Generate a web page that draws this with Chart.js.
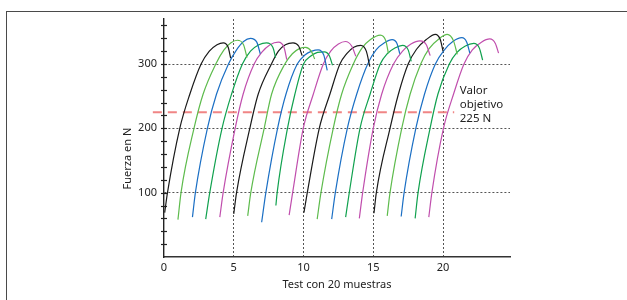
<!DOCTYPE html>
<html>
<head>
<meta charset="utf-8">
<script src="https://cdn.jsdelivr.net/npm/chart.js@4.4.0/dist/chart.umd.min.js"></script>
<style>
    html, body { margin: 0; padding: 0; background: #fff; overflow: hidden; }
    .frame { position: absolute; left: 6px; top: 11px; width: 700px; height: 400px; border: 1.5px solid #4a4a4a; }
    .chart-box { position: absolute; left: 0; top: 0; width: 627px; height: 300px; }
</style>
</head>
<body>
<div class="frame"></div>
<div class="chart-box"><canvas id="forceChart"></canvas></div>
<script>
// x positions (test axis) of each of the 20 force curves
const testX = [
    [0.05, 0.25, 1.13, 1.85, 2.66, 3.25, 3.8, 4.25, 4.6, 4.78],
    [1.0, 1.22, 2.15, 2.8, 3.71, 4.3, 4.8, 5.25, 5.7, 5.95],
    [2.04, 2.25, 3.11, 3.76, 4.62, 5.2, 5.7, 6.2, 6.65, 6.9],
    [2.99, 3.28, 4.16, 4.84, 5.62, 6.2, 6.8, 7.35, 7.8, 8.0],
    [4.0, 4.24, 5.1, 5.67, 6.46, 7.0, 7.6, 8.2, 8.6, 8.8],
    [5.0, 5.2, 6.15, 6.75, 7.7, 8.2, 8.7, 9.25, 9.65, 9.9],
    [6.0, 6.22, 7.18, 7.71, 8.66, 9.2, 9.7, 10.15, 10.55, 10.8],
    [7.0, 7.3, 8.14, 8.74, 9.55, 10.1, 10.6, 11.05, 11.45, 11.7],
    [8.02, 8.11, 8.85, 9.38, 10.0, 10.5, 11.0, 11.5, 11.85, 12.08],
    [8.97, 9.22, 9.98, 10.7, 11.42, 11.95, 12.5, 13.0, 13.45, 13.75],
    [10.03, 10.27, 11.13, 11.89, 12.61, 13.1, 13.6, 14.1, 14.5, 14.75],
    [10.98, 11.25, 12.13, 12.73, 13.57, 14.2, 14.8, 15.5, 15.9, 16.08],
    [12.02, 12.28, 13.14, 13.81, 14.6, 15.2, 15.8, 16.35, 16.7, 16.9],
    [13.02, 13.28, 14.05, 14.77, 15.5, 16.0, 16.55, 17.1, 17.5, 17.72],
    [14.0, 14.24, 15.0, 15.6, 16.45, 17.1, 17.7, 18.35, 18.8, 19.08],
    [15.05, 15.22, 16.2, 16.8, 17.5, 18.1, 18.8, 19.45, 19.8, 20.0],
    [16.0, 16.2, 17.04, 17.64, 18.4, 19.0, 19.7, 20.3, 20.75, 21.02],
    [17.0, 17.21, 18.05, 18.67, 19.45, 20.1, 20.7, 21.35, 21.7, 21.92],
    [18.0, 18.21, 19.07, 19.63, 20.45, 21.0, 21.6, 22.2, 22.6, 22.84],
    [18.98, 19.2, 20.03, 20.75, 21.5, 22.1, 22.75, 23.35, 23.75, 23.98]
];

// force values in N for the same points
const testY = [
    [69, 100, 200, 253, 300, 320, 330, 333, 326, 309],
    [58, 100, 200, 253, 300, 322, 333, 337, 330, 310],
    [62, 100, 200, 253, 300, 322, 335, 340, 334, 316],
    [59, 100, 200, 253, 300, 320, 330, 333, 326, 310],
    [62, 100, 200, 253, 300, 318, 330, 334, 326, 307],
    [67, 100, 200, 253, 300, 320, 330, 333, 328, 313],
    [64, 100, 200, 253, 300, 316, 324, 326, 320, 308],
    [54, 100, 200, 253, 300, 314, 320, 322, 314, 290],
    [80, 100, 200, 253, 300, 312, 318, 319, 313, 298],
    [65, 100, 200, 253, 300, 320, 331, 335, 328, 312],
    [69, 100, 200, 253, 300, 316, 326, 329, 320, 296],
    [59, 100, 200, 253, 300, 325, 338, 345, 336, 317],
    [59, 100, 200, 253, 300, 322, 333, 338, 332, 316],
    [62, 100, 200, 253, 300, 316, 325, 329, 322, 304],
    [60, 100, 200, 253, 300, 320, 331, 336, 330, 313],
    [68, 100, 200, 253, 300, 323, 338, 346, 338, 320],
    [64, 100, 200, 253, 300, 324, 339, 346, 336, 315],
    [63, 100, 200, 253, 300, 322, 335, 341, 334, 317],
    [60, 100, 200, 253, 300, 318, 328, 332, 325, 306],
    [62, 100, 200, 253, 300, 322, 334, 339, 332, 317]
];

const curveColors = ['#1a1a1a', '#5dbb4c', '#1b6fc4', '#10a14e', '#c04ead'];
const xTicks = [0, 5, 10, 15, 20];
const yLabels = [100, 200, 300];
const targetValue = 225;
const targetLabel = ['Valor', 'objetivo', '225 N'];

const FONT = '"Noto Sans", "Open Sans", sans-serif';

const datasets = testX.map(function(xs, i) {
    return {
        label: 'Muestra ' + (i + 1),
        data: xs.map(function(x, j) { return { x: x, y: testY[i][j] }; }),
        borderColor: curveColors[i % curveColors.length],
        borderWidth: 1.2,
        pointRadius: 0,
        showLine: true,
        fill: false,
        cubicInterpolationMode: 'monotone'
    };
});

// extra drawing: target line, inner tick marks, texts
const extrasPlugin = {
    id: 'extras',
    beforeDatasetsDraw: function(chart) {
        const ctx = chart.ctx;
        const xs = chart.scales.x;
        const ys = chart.scales.y;
        const yT = ys.getPixelForValue(targetValue);
        ctx.save();
        ctx.strokeStyle = 'rgba(238, 120, 120, 0.9)';
        ctx.lineWidth = 1.8;
        ctx.setLineDash([9, 6]);
        ctx.beginPath();
        ctx.moveTo(xs.getPixelForValue(-0.8), yT);
        ctx.lineTo(xs.getPixelForValue(20.8), yT);
        ctx.stroke();
        ctx.restore();
    },
    afterDraw: function(chart) {
        const ctx = chart.ctx;
        const xs = chart.scales.x;
        const ys = chart.scales.y;
        ctx.save();
        // tick marks crossing the y axis
        ctx.strokeStyle = '#222';
        ctx.lineWidth = 1.2;
        ys.ticks.forEach(function(t) {
            if (t.value === 0) return;
            const py = Math.round(ys.getPixelForValue(t.value)) + 0.5;
            ctx.beginPath();
            ctx.moveTo(xs.left - 3, py);
            ctx.lineTo(xs.left + 3, py);
            ctx.stroke();
        });
        // target text
        ctx.fillStyle = '#222';
        ctx.font = '11.5px ' + FONT;
        ctx.textAlign = 'left';
        ctx.textBaseline = 'alphabetic';
        const tx = xs.getPixelForValue(21.2);
        const ty = ys.getPixelForValue(253);
        targetLabel.forEach(function(line, i) {
            ctx.fillText(line, tx, ty + i * 13.8);
        });
        // y axis title
        ctx.font = '11px ' + FONT;
        ctx.textAlign = 'center';
        ctx.textBaseline = 'middle';
        ctx.translate(xs.left - 36, ys.getPixelForValue(153));
        ctx.rotate(-Math.PI / 2);
        ctx.fillText('Fuerza en N', 0, 0);
        ctx.restore();
    }
};

const forceCtx = document.getElementById('forceChart').getContext('2d');
const forceChart = new Chart(forceCtx, {
    type: 'scatter',
    data: { datasets: datasets },
    options: {
        responsive: true,
        maintainAspectRatio: false,
        animation: false,
        layout: {
            padding: { left: 0, top: 19, right: 117, bottom: 0 }
        },
        plugins: {
            legend: { display: false },
            tooltip: { enabled: false }
        },
        scales: {
            x: {
                type: 'linear',
                min: 0,
                max: 24.8,
                afterBuildTicks: function(scale) {
                    scale.ticks = xTicks.map(function(v) { return { value: v }; });
                },
                afterFit: function(scale) {
                    scale.height = 43;
                },
                ticks: {
                    color: '#222',
                    font: { family: FONT, size: 11 },
                    padding: 4,
                    maxRotation: 0,
                    autoSkip: false
                },
                grid: {
                    drawTicks: false,
                    lineWidth: 1,
                    color: function(c) {
                        return c.tick && c.tick.value > 0 ? '#555' : 'rgba(0,0,0,0)';
                    }
                },
                border: { display: true, color: '#333', width: 1.4, dash: [2, 2] },
                title: {
                    display: true,
                    text: 'Test con 20 muestras',
                    color: '#222',
                    font: { family: FONT, size: 11 },
                    padding: { top: 0, bottom: 9 }
                }
            },
            y: {
                min: 0,
                max: 370,
                afterBuildTicks: function(scale) {
                    const list = [];
                    for (let v = 0; v <= 360; v += 20) list.push({ value: v });
                    scale.ticks = list;
                },
                afterFit: function(scale) {
                    scale.width = 164;
                },
                ticks: {
                    color: '#222',
                    font: { family: FONT, size: 11 },
                    padding: 7,
                    autoSkip: false,
                    callback: function(v) {
                        return yLabels.indexOf(v) >= 0 ? String(v) : '';
                    }
                },
                grid: {
                    drawTicks: false,
                    lineWidth: 1,
                    color: function(c) {
                        return c.tick && yLabels.indexOf(c.tick.value) >= 0 ? '#555' : 'rgba(0,0,0,0)';
                    }
                },
                border: { display: true, color: '#222', width: 1.4, dash: [2, 2] }
            }
        }
    },
    plugins: [extrasPlugin]
});
</script>
</body>
</html>
